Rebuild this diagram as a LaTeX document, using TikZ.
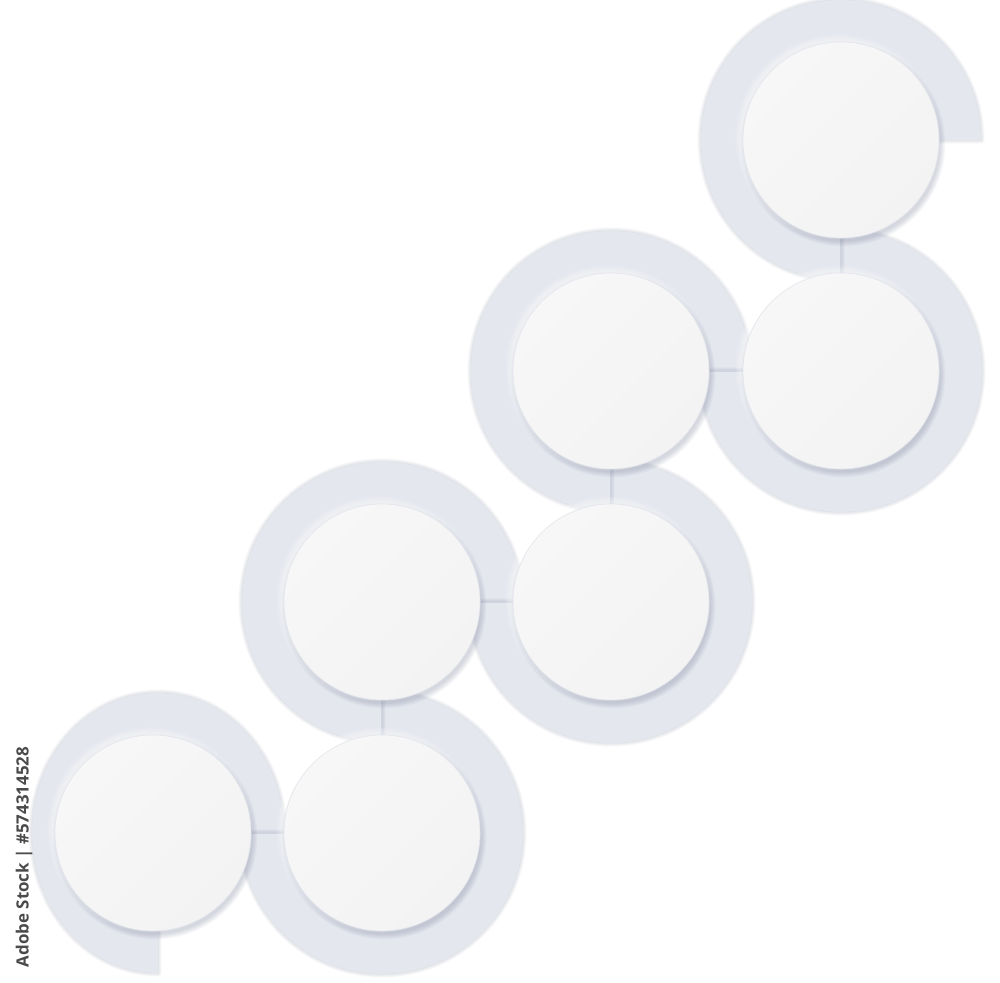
\documentclass[tikz,border=0pt]{standalone}
\usepackage{fontspec}
\setsansfont{Open Sans}
\usepackage{graphicx}
\usetikzlibrary{calc}

\definecolor{ringc}{HTML}{E4E7EE}
\definecolor{discc}{HTML}{F5F5F6}
\definecolor{dischi}{HTML}{F7F7F8}
\definecolor{disclo}{HTML}{F3F3F4}
\definecolor{shadc}{HTML}{6E7794}
\definecolor{seamc}{HTML}{CED3DD}
\definecolor{rimc}{HTML}{E4E6EC}
\definecolor{textc}{HTML}{4A4A4A}

% ring sector: center, start, end, Rx, Ry, rx, ry
\newcommand{\ringpath}[7]{($(#1)+(#2:#4 and #5)$) arc[start angle=#2, end angle=#3, x radius=#4, y radius=#5] -- ($(#1)+(#3:#6 and #7)$) arc[start angle=#3, end angle=#2, x radius=#6, y radius=#7] -- cycle}

\newcommand{\ringpiece}[7]{%
  \foreach \k in {1,...,6}{%
    \draw[shadc, opacity=0.03, line width=\k*0.6pt, line join=round, shift={(2,-3)}] \ringpath{#1}{#2}{#3}{#4}{#5}{#6}{#7};
  }
  \fill[shadc, opacity=0.10, shift={(1,-2)}] \ringpath{#1}{#2}{#3}{#4}{#5}{#6}{#7};
  \fill[ringc] \ringpath{#1}{#2}{#3}{#4}{#5}{#6}{#7};
}

\newcommand{\seam}[4]{% center, angle, R, r
  \draw[seamc, line width=0.7pt] ($(#1)+(#2:#3)$) -- ($(#1)+(#2:#4)$);
}

\newcommand{\disc}[1]{%
  \foreach \k in {0,...,6}{\fill[shadc, opacity=0.045] ($(#1)+(2,-4)$) circle[radius=97+\k*0.9];}
  \foreach \k in {0,...,3}{\fill[white, opacity=0.12] ($(#1)+(-3,3)$) circle[radius=98+\k*1.5];}
  \shade[top color=dischi, bottom color=disclo, shading angle=45] (#1) circle[radius=98];
  \draw[rimc, line width=0.3pt] (#1) circle[radius=98];
}

\begin{document}
\begin{tikzpicture}[x=0.5pt, y=0.5pt]
  \fill[white] (0,0) rectangle (1000,983);
  \useasboundingbox (0,0) rectangle (1000,983);

  % centres of the discs
  \coordinate (A) at (153,150);
  \coordinate (Ar) at (158,150);
  \coordinate (B) at (382,150);
  \coordinate (C) at (382,381);
  \coordinate (D) at (611,381);
  \coordinate (E) at (611,612);
  \coordinate (F) at (841,612);
  \coordinate (G) at (841,843);

  % rings
  \ringpiece{Ar}{0}{270}{126}{140}{74}{88}
  \ringpiece{B}{180}{450}{141}{141}{88}{88}
  \seam{B}{180}{141}{88}
  \ringpiece{C}{0}{270}{140}{140}{88}{88}
  \seam{C}{270}{140}{88}
  \ringpiece{D}{180}{450}{141}{141}{88}{88}
  \seam{D}{180}{141}{88}
  \ringpiece{E}{0}{270}{140}{140}{88}{88}
  \seam{E}{270}{140}{88}
  \ringpiece{F}{180}{450}{141}{141}{88}{88}
  \seam{F}{180}{141}{88}
  \ringpiece{G}{0}{270}{140}{140}{88}{88}
  \seam{G}{270}{140}{88}

  % discs
  \disc{A}
  \disc{B}
  \disc{C}
  \disc{D}
  \disc{E}
  \disc{F}
  \disc{G}

  \node[rotate=90, text=textc, inner sep=0pt] (stockid) at (24,126)
    {\resizebox{110pt}{!}{\sffamily\bfseries Adobe Stock | \#574314528}};
\end{tikzpicture}
\end{document}
